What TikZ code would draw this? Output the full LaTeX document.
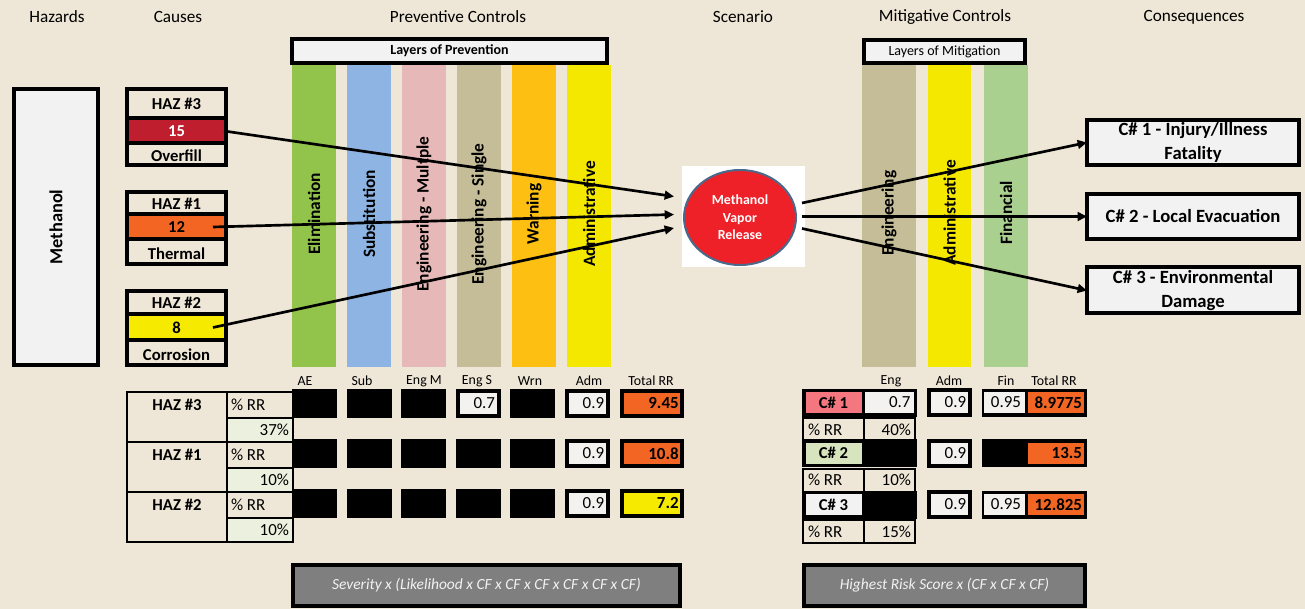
\documentclass[tikz,border=0pt]{standalone}
\usepackage{fontspec}
\setmainfont{Carlito}
\usetikzlibrary{arrows.meta,calc,shapes.geometric}

\definecolor{bg}{HTML}{EEE6D6}
\definecolor{boxgray}{HTML}{F2F2F2}
\definecolor{cellwhite}{HTML}{F4F2EE}
\definecolor{darkred}{HTML}{BE1E2D}
\definecolor{hotorange}{HTML}{F26522}
\definecolor{hotyellow}{HTML}{F5EA00}
\definecolor{elimgreen}{HTML}{92C44C}
\definecolor{subblue}{HTML}{8DB4E2}
\definecolor{engpink}{HTML}{E6B8B7}
\definecolor{engtan}{HTML}{C4BD97}
\definecolor{warnorange}{HTML}{FCBF12}
\definecolor{admyellow}{HTML}{F5E800}
\definecolor{fingreen}{HTML}{A9D08E}
\definecolor{rrgreen}{HTML}{EBF1DE}
\definecolor{c1pink}{HTML}{F4777F}
\definecolor{c2green}{HTML}{D7E4BD}
\definecolor{scenred}{HTML}{EE2128}
\definecolor{scenrim}{HTML}{4A6A8C}
\definecolor{formgray}{HTML}{7F7F7F}

\begin{document}
\begin{tikzpicture}[x=0.75pt, y=-0.75pt,
    every node/.style={inner sep=0pt, outer sep=0pt},
    wh/.style 2 args={minimum width={(#1)*0.75pt}, minimum height={(#2)*0.75pt}},
    rv/.style={text width=#1, align=right},
    heavy/.style={draw=black, line width=3pt},
    grid/.style={draw=black, line width=1.5pt},
    panel/.style={heavy, fill=boxgray},
    hd/.style={font=\fontsize{12.9}{15}\selectfont},
    layer/.style={rotate=90, font=\fontsize{13}{15}\selectfont\bfseries},
    cause/.style={font=\fontsize{12.5}{15}\selectfont\bfseries},
    conseq/.style={panel, wh={212}{45}, align=center, font=\fontsize{14}{18}\selectfont\bfseries},
    colhd/.style={font=\fontsize{10.4}{12}\selectfont},
    cell/.style={font=\fontsize{12.7}{15}\selectfont},
    blk/.style={heavy, fill=black, wh={41}{25}},
    val/.style={heavy, fill=cellwhite, wh={41}{25}, rv=25pt, cell},
    tot/.style={heavy, wh={60}{25}, rv=40pt, font=\fontsize{12.7}{15}\selectfont\bfseries},
    formula/.style={heavy, fill=formgray, text=boxgray, font=\fontsize{11.6}{14}\selectfont\itshape},
    link/.style={line width=2pt, -{Triangle[length=7pt, width=6.5pt]}}]

\fill[bg] (0,0) rectangle (1305,609);
\useasboundingbox (0,0) rectangle (1305,609);

\node[hd] (hhaz) at (57,17) {Hazards};
\node[hd] (hcau) at (178,17) {Causes};
\node[hd] (hprev) at (458,17) {Preventive Controls};
\node[hd] (hscen) at (743,17) {Scenario};
\node[hd] (hmit) at (945,17) {Mitigative Controls};
\node[hd] (hcons) at (1194,17) {Consequences};

\node[panel, wh={84}{276}] (meth) at (56,227) {};
\node[layer, font=\fontsize{13.8}{15}\selectfont\bfseries] (methtxt) at (meth) {Methanol};

\foreach \k/\ya/\yb/\yc/\yd/\score/\vc/\txtc/\why in
    {3/87/118/143/167/15/darkred/white/Overfill,
     1/190/214/239/266/12/hotorange/black/Thermal,
     2/289/314/340/367/8/hotyellow/black/Corrosion} {
  \node[heavy, wh={99}{\yd-\ya-4}] (haz\k) at (176.5,{(\ya+\yd)/2}) {};
  \node[fill=\vc, wh={95}{\yc-\yb-4}, cause, text=\txtc] (hazv\k) at (176.5,{(\yb+\yc)/2+0.5}) {\score};
  \draw[heavy] (127,\yb) -- (226,\yb) (127,\yc) -- (226,\yc);
  \node[cause] (hazh\k) at (176.5,{(\ya+\yb)/2+1.5}) {HAZ \#\k};
  \node[cause] (hazc\k) at (176.5,{(\yc+\yd)/2+1}) {\why};
}

\foreach \colr/\lab [count=\i from 0] in {elimgreen/Elimination, subblue/Substitution,
    engpink/Engineering - Multple, engtan/Engineering - Single,
    warnorange/Warning, admyellow/Administrative} {
  \node[fill=\colr, wh={44}{302}] (prev\i) at (314+55*\i,216) {};
  \node[layer] (prevl\i) at (314+55*\i,214) {\lab};
}
\node[panel, wh={315}{24}, font=\fontsize{10.5}{12}\selectfont\bfseries] (lop) at (449.5,51) {Layers of Prevention};

\foreach \x/\w/\colr/\lab in {889/54/engtan/Engineering, 949.5/43/admyellow/Administrative,
    1006/44/fingreen/Financial} {
  \node[fill=\colr, wh={\w}{302}] (mit\lab) at (\x,216) {};
  \node[layer] (mitl\lab) at (\x,213) {\lab};
}
\node[panel, wh={161}{23}, font=\fontsize{10.5}{12}\selectfont] (lom) at (944.5,51.5) {Layers of Mitigation};

\node[fill=white, wh={123}{101}] (scenbox) at (743.5,216.5) {};
\node[ellipse, fill=scenred, draw=scenrim, line width=1.5pt, wh={112}{95}, text=white,
    align=center, font=\fontsize{10.4}{13}\selectfont\bfseries] (scen) at (740,217.5) {Methanol\\Vapor\\Release};

\node[conseq] (c1) at (1193,142.5) {C\# 1 - Injury/Illness\\Fatality};
\node[conseq] (c2) at (1193,216.5) {C\# 2 - Local Evacuation};
\node[conseq, wh={212}{46}] (c3) at (1193,290.5) {C\# 3 - Environmental\\Damage};

\foreach \txt/\x [count=\j] in {AE/305, Sub/362, Eng M/424, Eng S/477, Wrn/530, Adm/589, Total RR/651}
  \node[colhd] (ph\j) at (\x,381) {\txt};
\foreach \txt/\x [count=\j] in {Eng/891, Adm/949, Fin/1006, Total RR/1054}
  \node[colhd] (mh\j) at (\x,381) {\txt};

\foreach \k/\yt/\pct in {3/392/37, 1/442/10, 2/492/10} {
  \fill[rrgreen] (227,\yt+26) rectangle (293,\yt+50);
  \draw[grid] (127,\yt) rectangle (293,\yt+50) (227,\yt) -- (227,\yt+50) (227,\yt+26) -- (293,\yt+26);
  \node[cause] (row\k) at (177,\yt+13) {HAZ \#\k};
  \node[cell, anchor=west] (rowp\k) at (231,\yt+13) {\% RR};
  \node[cell, anchor=east] (rowv\k) at (289,\yt+38) {\pct\%};
  \foreach \i in {0,...,5}
    \node[blk] (b\k\i) at (314.5+54.6*\i,\yt+11.5) {};
}
\node[val] (v3s) at (b33) {0.7};
\node[val] (v3a) at (b35) {0.9};
\node[val] (v1a) at (b15) {0.9};
\node[val] (v2a) at (b25) {0.9};
\node[tot, fill=hotorange] (t3) at (652,403.5) {9.45};
\node[tot, fill=hotorange] (t1) at (652,453.5) {10.8};
\node[tot, fill=hotyellow] (t2) at (652,503.5) {7.2};

\foreach \rw/\yy/\cc/\pct in {1/402.5/c1pink/40, 2/453/c2green/10, 3/504.5/boxgray/15} {
  \node[heavy, fill=black, wh={111}{24}] (cb\rw) at (859.5,\yy) {};
  \node[fill=\cc, cause, wh={56}{21}] (cn\rw) at (833.5,\yy) {C\# \rw};
  \node[val] (ca\rw) at (949.5,\yy) {0.9};
  \node[heavy, fill=black, wh={101}{24}] (cf\rw) at (1034.5,\yy) {};
  \node[grid, wh={112}{23}] (cp\rw) at (859,\yy+27) {};
  \draw[grid] (864,\yy+15.5) -- (864,\yy+38.5);
  \node[cell, anchor=west] (cq\rw) at (808,\yy+27) {\% RR};
  \node[cell, anchor=east] (cv\rw) at (911,\yy+27) {\pct\%};
}
\node[fill=cellwhite, wh={49}{21}, rv=31.5pt, cell] (ce1) at (889.5,402.5) {0.7};
\node[fill=cellwhite, wh={41}{21}, rv=24.75pt, cell] (cfv1) at (1004.5,402.5) {0.95};
\node[fill=cellwhite, wh={41}{21}, rv=24.75pt, cell] (cfv3) at (1004.5,504.5) {0.95};
\node[fill=hotorange, wh={56}{21}, rv=39pt, font=\fontsize{12.7}{15}\selectfont\bfseries] (ct1) at (1056,402.5) {8.9775};
\node[fill=hotorange, wh={56}{21}, rv=39pt, font=\fontsize{12.7}{15}\selectfont\bfseries] (ct2) at (1056,453) {13.5};
\node[fill=hotorange, wh={56}{21}, rv=39pt, font=\fontsize{12.7}{15}\selectfont\bfseries] (ct3) at (1056,504.5) {12.825};

\node[formula, wh={387}{41}] (fprev) at (486.5,585.5) {Severity x (Likelihood x CF x CF x CF x CF x CF x CF)};
\node[formula, wh={281}{41}] (fmit) at (944.5,585.5) {Highest Risk Score x (CF x CF x CF)};

\coordinate (in3) at (674,196.5);
\coordinate (in1) at (674,214.5);
\coordinate (in2) at (674,228);
\coordinate (out1) at (802,203);
\coordinate (out2) at (802,216.5);
\coordinate (out3) at (802,228.5);
\draw[link] (hazv3.east) -- (in3);
\draw[link] ($(hazv1.east)+(-11,0)$) -- (in1);
\draw[link] ($(hazv2.east)+(-11,0)$) -- (in2);
\draw[link] (out1) -- (c1.west);
\draw[link] (out2) -- (c2.west);
\draw[link] (out3) -- (c3.west);
\end{tikzpicture}
\end{document}
